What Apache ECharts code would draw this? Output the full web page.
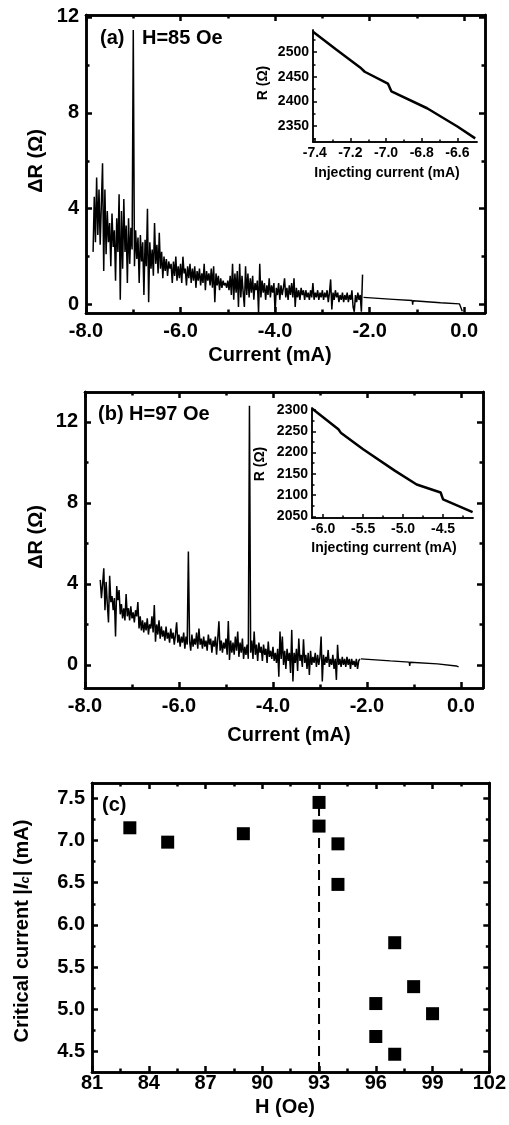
<!DOCTYPE html>
<html><head><meta charset="utf-8">
<script src="https://cdn.jsdelivr.net/npm/echarts@6/dist/echarts.min.js"></script>
<style>html,body{margin:0;padding:0;background:#fff}#c{width:509px;height:1125px}</style>
</head><body><div id="c"></div><script>
// ---------- DATA ----------
// Panel (a) H=85 Oe : noisy sweep from -7.85 to -2.15 mA (uniform current steps)
const aNoiseRange = [-7.85, -2.15];
const aNoiseDR = [
2.2,4.5,2.6,5.3,2.9,4.8,2.5,4.2,5.9,1.4,
4.8,2.1,3.9,2.6,3.4,1.6,3.8,2.4,3.1,1.0,
3.6,2.2,4.6,0.2,3.9,1.5,4.4,2.2,3.3,0.9,
3.6,1.7,3.2,2.3,11.45,1.6,3.1,1.9,2.8,0.9,
2.9,1.8,2.6,0.4,2.7,1.6,4.0,0.1,2.6,1.5,
2.3,1.2,3.4,1.7,2.5,1.3,3.0,1.5,2.2,1.1,
2.0,1.4,1.9,1.2,1.8,1.5,1.7,0.9,1.8,1.2,
2.0,1.0,1.6,1.1,1.7,0.9,2.0,1.3,1.5,0.8,
1.6,1.1,1.7,0.9,1.5,1.0,1.6,0.7,1.4,1.0,
1.5,0.8,1.3,0.9,1.7,0.6,1.4,1.0,1.3,0.8,
1.5,0.7,1.6,0.1,1.3,0.8,1.2,0.6,1.1,0.7,
1.0,0.8,0.9,0.7,1.0,0.6,1.2,0.4,1.7,0.2,
1.3,0.5,1.4,-0.1,1.7,0.3,1.2,0.5,-0.1,1.6,
0.4,1.3,0.3,1.1,0.5,1.2,0.2,0.9,0.6,1.0,
-0.35,1.7,0.3,1.0,0.5,0.9,0.2,0.8,0.4,1.1,
0.3,0.8,0.5,0.9,-0.35,0.7,0.4,0.9,0.2,0.8,
0.4,0.7,1.1,0.3,0.7,0.2,0.8,0.4,0.9,0.3,
1.1,-0.1,0.7,0.3,0.6,0.2,0.7,0.4,0.6,0.2,
0.6,0.3,0.5,0.2,0.6,0.3,0.9,0.2,0.5,0.3,
0.6,0.2,0.5,0.3,0.6,0.2,0.5,0.3,0.6,0.1,
0.5,1.05,-0.2,0.5,0.2,0.6,0.3,0.5,0.1,0.4,
0.2,0.5,0.1,0.4,0.2,0.5,0.1,0.4,0.2,0.6,
-0.1,-0.3,0.4,0.1,0.5,0.2,0.4,-0.3,1.25
];
const aTailCurrent = [-2.13,-1.5,-1.1,-1.09,-1.08,-0.5,-0.1,-0.06,-0.04];
const aTailDR      = [0.3,0.22,0.17,0.0,0.16,0.08,0.03,-0.05,-0.28];

// Panel (b) H=97 Oe
const bNoiseRange = [-7.675, -2.15];
const bNoiseDR = [
4.2,3.3,4.0,4.77,2.7,4.1,3.0,2.1,4.4,3.1,
3.4,2.7,3.3,1.4,3.9,3.2,3.7,2.5,3.0,2.3,
2.8,2.2,3.5,2.4,2.8,2.2,2.9,2.3,2.6,2.1,
2.7,2.4,3.1,1.8,2.4,1.7,2.2,1.6,2.1,1.7,
2.3,1.5,2.0,1.8,2.4,1.6,2.96,1.15,2.0,1.5,
2.2,1.3,1.9,1.4,1.7,1.2,1.9,1.3,1.6,1.1,
1.8,1.3,1.6,1.0,1.5,2.1,1.1,1.5,0.9,1.4,
1.1,1.6,0.8,1.4,1.0,5.6,1.2,0.7,1.5,0.9,
1.3,1.0,1.6,0.8,1.8,1.0,1.3,0.8,1.4,0.9,
1.2,0.7,1.5,1.0,1.3,0.6,1.2,0.9,1.4,0.5,
1.3,2.15,0.7,1.2,0.6,1.1,0.8,1.3,0.5,2.17,
0.25,1.2,0.6,1.1,0.5,1.4,0.7,1.65,0.4,1.1,
0.6,1.3,0.3,0.9,0.5,1.0,0.3,12.8,0.6,1.2,
0.3,1.65,0.5,1.0,0.2,1.1,0.6,0.9,0.2,1.0,
0.5,0.8,0.1,1.15,0.4,0.7,0.3,0.9,0.2,0.6,
0.1,0.8,-0.58,1.65,0.3,1.4,0.0,0.7,-0.2,0.8,
0.2,0.6,-0.4,1.73,-0.82,0.6,0.1,0.8,-0.3,1.3,
0.2,0.5,-0.1,1.27,0.1,0.5,-0.2,0.6,-0.49,0.7,
0.0,0.4,0.1,0.6,-0.1,0.5,0.0,0.4,1.4,-0.82,
0.5,0.0,0.4,0.1,0.74,-0.1,0.3,0.0,0.5,-0.2,
0.3,-0.74,0.99,0.0,0.3,-0.1,0.4,0.0,0.3,-0.1,
0.4,0.0,0.3,-0.2,0.3,0.0,0.2,-0.1,0.3,-0.2,
0.2,0.3
];
const bTailCurrent = [-2.13,-1.5,-1.1,-1.09,-1.08,-0.5,-0.1,-0.05];
const bTailDR      = [0.3,0.2,0.14,-0.05,0.13,0.05,-0.05,-0.1];

// Insets R vs injecting current
const insetACurrent = [-7.41,-7.28,-7.14,-7.12,-6.99,-6.97,-6.77,-6.6,-6.5];
const insetAR       = [2541,2505,2467,2460,2436,2420,2386,2349,2325];
const insetBCurrent = [-6.14,-5.81,-5.78,-5.5,-5.1,-4.83,-4.53,-4.50,-4.13];
const insetBR       = [2304,2255,2247,2208,2157,2125,2106,2090,2060];

// Panel (c) critical current vs H
const cField = [83,85,89,93,93,94,94,97,98,96,99,96,97];
const cIc    = [7.15,6.98,7.08,7.45,7.17,6.96,6.48,5.79,5.27,5.07,4.95,4.68,4.47];
const cDashField = 93, cDashTop = 7.45;

// Tick values
const abXTicks = [-8,-6,-4,-2,0], abXMinor = [-7,-5,-3,-1];
const abYTicks = [0,4,8,12], abYMinor = [2,6,10];
const cXTicks = [81,84,87,90,93,96,99,102], cXMinor = [82.5,85.5,88.5,91.5,94.5,97.5,100.5];
const cYTicks = [4.5,5.0,5.5,6.0,6.5,7.0,7.5], cYMinor = [4.75,5.25,5.75,6.25,6.75,7.25];
const iaXTicks = [-7.4,-7.2,-7.0,-6.8,-6.6], iaXMinor = [-7.3,-7.1,-6.9,-6.7];
const iaYTicks = [2350,2400,2450,2500], iaYMinor = [2325,2375,2425,2475,2525];
const ibXTicks = [-6.0,-5.5,-5.0,-4.5], ibXMinor = [-5.75,-5.25,-4.75,-4.25];
const ibYTicks = [2050,2100,2150,2200,2250,2300], ibYMinor = [2075,2125,2175,2225,2275];

// ---------- LAYOUT ----------
const F = '"Liberation Sans", Arial, sans-serif';
const aX = [-8, 0.44], aY = [-0.35, 12.08];
const bX = [-8, 0.47], bY = [-1.14, 13.48];
const cX = [81, 102], cY = [4.26, 7.68];
const iaX = [-7.41, -6.49], iaY = [2317.6, 2544.6];
const ibX = [-6.14, -4.125], ibY = [2046, 2305];

const grids = [
  {left:86, top:15, width:399, height:298},
  {left:85, top:392, width:398, height:296},
  {left:92, top:783, width:398, height:289},
  {left:313, top:30, width:164, height:112},
  {left:312, top:408, width:161, height:110}
];
const xAxes = [], yAxes = [];
function axis(dim, gi, range, pos, vals, len, lw, label) {
  const ax = {type:'value', gridIndex:gi, min:range[0], max:range[1], position:pos,
    axisLine:{show:true, onZero:false, lineStyle:{color:'#000', width:lw}},
    axisTick:{show:true, inside:true, length:len, customValues:vals, lineStyle:{color:'#000', width:lw}},
    axisLabel: label ? Object.assign({show:true, customValues:vals, color:'#000', fontFamily:F, fontWeight:'bold'}, label) : {show:false},
    splitLine:{show:false}, minorTick:{show:false}, splitArea:{show:false}};
  const arr = dim === 'x' ? xAxes : yAxes;
  arr.push(ax); return arr.length - 1;
}
const f1 = v => v.toFixed(1), f0 = v => String(Math.round(v));
function frame(gi, xr, yr, xt, xm, yt, ym, xf, yf, xMargin) {
  const xi = axis('x', gi, xr, 'bottom', xt, 6, 2.5, {fontSize:20, margin:xMargin, formatter:xf});
  axis('x', gi, xr, 'bottom', xm, 3.5, 2.5, null);
  axis('x', gi, xr, 'top', xt, 6, 2.5, null);
  axis('x', gi, xr, 'top', xm, 3.5, 2.5, null);
  const yi = axis('y', gi, yr, 'left', yt, 6, 2.5, {fontSize:20, margin:7, formatter:yf});
  axis('y', gi, yr, 'left', ym, 3.5, 2.5, null);
  axis('y', gi, yr, 'right', yt, 6, 2.5, null);
  axis('y', gi, yr, 'right', ym, 3.5, 2.5, null);
  return [xi, yi];
}
function inset(gi, xr, yr, xt, xm, yt, ym) {
  const xi = axis('x', gi, xr, 'bottom', xt, 4, 1.5, {fontSize:14, margin:4, formatter:f1});
  axis('x', gi, xr, 'bottom', xm, 2.5, 1.5, null);
  const yi = axis('y', gi, yr, 'left', yt, 4, 1.5, {fontSize:14, margin:4, formatter:f0});
  axis('y', gi, yr, 'left', ym, 2.5, 1.5, null);
  return [xi, yi];
}
const A = frame(0, aX, aY, abXTicks, abXMinor, abYTicks, abYMinor, f1, f0, 8);
const B = frame(1, bX, bY, abXTicks, abXMinor, abYTicks, abYMinor, f1, f0, 8);
const C = frame(2, cX, cY, cXTicks, cXMinor, cYTicks, cYMinor, f0, f1, 1);
const IA = inset(3, iaX, iaY, iaXTicks, iaXMinor, iaYTicks, iaYMinor);
const IB = inset(4, ibX, ibY, ibXTicks, ibXMinor, ibYTicks, ibYMinor);

function sweep(range, vals) {
  const n = vals.length;
  return vals.map((v, i) => [range[0] + i * (range[1] - range[0]) / (n - 1), v]);
}
const zip = (xs, ys) => xs.map((x, i) => [x, ys[i]]);
function line(ax, data, w, extra) {
  return Object.assign({type:'line', xAxisIndex:ax[0], yAxisIndex:ax[1], data:data, symbol:'none',
    lineStyle:{color:'#000', width:w}, itemStyle:{color:'#000'}, animation:false, silent:true}, extra || {});
}

const series = [
  line(A, sweep(aNoiseRange, aNoiseDR), 1.5),
  line(A, zip(aTailCurrent, aTailDR), 1.4),
  line(B, sweep(bNoiseRange, bNoiseDR), 1.5),
  line(B, zip(bTailCurrent, bTailDR), 1.4),
  line(IA, zip(insetACurrent, insetAR), 2.5),
  line(IB, zip(insetBCurrent, insetBR), 2.5),
  line(C, [[cDashField, cY[0]], [cDashField, cDashTop]], 2, {lineStyle:{color:'#000', width:2, type:[10,6]}}),
  {type:'scatter', xAxisIndex:C[0], yAxisIndex:C[1], data:zip(cField, cIc), symbol:'rect', symbolSize:13,
   itemStyle:{color:'#000', opacity:1}, animation:false, silent:true}
];

function txt(x, y, text, size, opts) {
  return Object.assign({type:'text', x:x, y:y, z:100, style:Object.assign({text:text, fill:'#000',
    font:'bold ' + size + 'px ' + F, align:'center', verticalAlign:'middle'}, (opts && opts.style) || {})},
    opts && opts.rotation ? {rotation:opts.rotation} : {});
}
const R90 = Math.PI / 2;
const graphics = [
  txt(36, 161, 'ΔR (Ω)', 20, {rotation:R90}),
  txt(270, 355, 'Current (mA)', 20),
  txt(100, 38, '(a)', 20, {style:{align:'left'}}),
  txt(142, 38, 'H=85 Oe', 20, {style:{align:'left'}}),
  txt(263, 83, 'R (Ω)', 14, {rotation:R90}),
  txt(387, 173, 'Injecting current (mA)', 14),
  txt(36, 537, 'ΔR (Ω)', 20, {rotation:R90}),
  txt(289, 735, 'Current (mA)', 20),
  txt(98, 414, '(b) H=97 Oe', 20, {style:{align:'left'}}),
  txt(260, 464, 'R (Ω)', 14, {rotation:R90}),
  txt(384, 548, 'Injecting current (mA)', 14),
  txt(102, 805, '(c)', 20, {style:{align:'left'}}),
  txt(285, 1107, 'H (Oe)', 20),
  {type:'text', x:22, y:931, rotation:R90, z:100, style:{
    text:'Critical current |{i|I}{s|c}| (mA)', fill:'#000', font:'bold 20px ' + F,
    align:'center', verticalAlign:'middle',
    rich:{i:{fontStyle:'italic', fontWeight:'bold', fontSize:20, fontFamily:F, fill:'#000'},
          s:{fontStyle:'italic', fontWeight:'bold', fontSize:13, fontFamily:F, fill:'#000', verticalAlign:'bottom'}}}}
];

const chart = echarts.init(document.getElementById('c'), null, {renderer:'canvas'});
chart.setOption({
  animation:false, backgroundColor:'#fff',
  grid:grids, xAxis:xAxes, yAxis:yAxes, series:series, graphic:graphics
});
</script></body></html>
